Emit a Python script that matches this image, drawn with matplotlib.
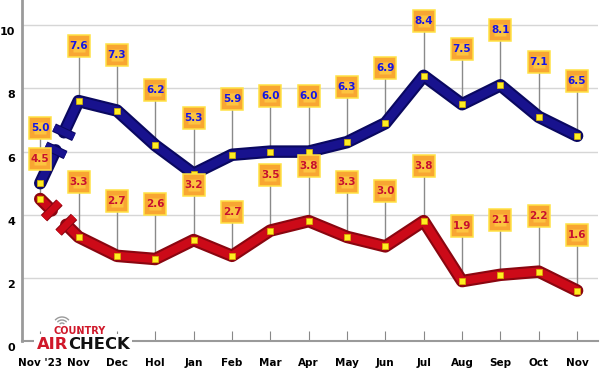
import numpy as np
import matplotlib.pyplot as plt
import matplotlib.patheffects as pe
import matplotlib.transforms as mtransforms
from matplotlib.patches import Arc, Rectangle

# -----------------------------
# Data
# -----------------------------
months = ["Nov '23", "Nov", "Dec", "Hol", "Jan", "Feb", "Mar", "Apr",
          "May", "Jun", "Jul", "Aug", "Sep", "Oct", "Nov"]
blue_vals = [5.0, 7.6, 7.3, 6.2, 5.3, 5.9, 6.0, 6.0, 6.3, 6.9, 8.4, 7.5, 8.1, 7.1, 6.5]
red_vals = [4.5, 3.3, 2.7, 2.6, 3.2, 2.7, 3.5, 3.8, 3.3, 3.0, 3.8, 1.9, 2.1, 2.2, 1.6]
y_ticks = [0, 2, 4, 6, 8, 10]

# -----------------------------
# Figure / axes
# -----------------------------
fig = plt.figure(figsize=(6, 3.7), dpi=100)
ax = fig.add_axes([0.037, 0.078, 0.96, 0.922])
x = np.arange(len(months))
ax.set_xlim(-0.47, len(months) - 0.45)
ax.set_ylim(0, 10.8)

ax.set_yticks(y_ticks)
ax.set_yticklabels([str(v) for v in y_ticks], fontsize=8, fontweight='bold')
ax.yaxis.grid(True, color='#d6d6d6', lw=1)
ax.set_axisbelow(True)
ax.tick_params(axis='y', length=0, pad=5)
# y labels sit a little below their gridlines
shift = mtransforms.ScaledTranslation(0, -0.06, fig.dpi_scale_trans)
for lab in ax.get_yticklabels():
    lab.set_transform(lab.get_transform() + shift)
ax.set_xticks(x)
ax.set_xticklabels(months, fontsize=7.5, fontweight='bold')
ax.tick_params(axis='x', direction='in', length=7, color='#888888', pad=12)
for s in ['top', 'right']:
    ax.spines[s].set_visible(False)
ax.spines['left'].set_color('#9a9a9a')
ax.spines['left'].set_linewidth(2)
ax.spines['bottom'].set_color('#9a9a9a')
ax.spines['bottom'].set_linewidth(1.5)


# -----------------------------
# Helpers
# -----------------------------
def to_disp(px, py):
    return ax.transData.transform((px, py))


def to_data(p):
    return ax.transData.inverted().transform(p)


def draw_series(vals, color, dark, text_color, cut, label_off, z):
    vals = np.asarray(vals)
    p0 = to_disp(x[0], vals[0])
    p1 = to_disp(x[1], vals[1])
    a = to_data(p0 + (p1 - p0) * cut[0])
    b = to_data(p0 + (p1 - p0) * cut[1])
    style = dict(color=color, lw=6, solid_capstyle='round', solid_joinstyle='round',
                 zorder=z, path_effects=[pe.Stroke(linewidth=9, foreground=dark), pe.Normal()])
    ax.plot([x[0], a[0]], [vals[0], a[1]], **style)
    ax.plot(np.r_[b[0], x[1:]], np.r_[b[1], vals[1:]], **style)

    # break caps on the first segment
    d = (p1 - p0) / np.linalg.norm(p1 - p0)
    n = np.array([-d[1], d[0]]) * 11
    for t in cut:
        c = p0 + (p1 - p0) * t
        e1, e2 = to_data(c + n), to_data(c - n)
        ax.plot([e1[0], e2[0]], [e1[1], e2[1]], color=color, lw=5, solid_capstyle='butt',
                zorder=z + 0.1, path_effects=[pe.Stroke(linewidth=6.5, foreground=dark), pe.Normal()])

    ax.plot(x, vals, ls='none', marker='s', ms=4, mfc='#ffee22', mec='#d8b000', mew=0.5, zorder=z + 0.2)

    # value boxes, always above the lines
    bz = 10 + z
    for i, v in enumerate(vals):
        ly = v + label_off[i]
        ax.plot([x[i], x[i]], [v, ly], color='#8a8a8a', lw=1, zorder=2)
        ax.plot(x[i], ly, marker='s', ms=15.5, mfc='#f8a632', mec='#ffe245', mew=1.1, zorder=bz)
        ax.plot(x[i], ly, marker='s', ms=9, mfc='#fcc440', mec='none', zorder=bz + 0.1)
        ax.text(x[i], ly, f"{v:.1f}", ha='center', va='center', fontsize=7.5,
                fontweight='bold', color=text_color, zorder=bz + 0.2)


off_red = [1.75] * len(months)
off_red[0] = 1.28
off_red[5] = 1.4
off_blue = [1.75] * len(months)

draw_series(red_vals, '#cc0a18', '#8a0610', '#c8102e', (0.3, 0.68), off_red, 4)
draw_series(blue_vals, '#18128e', '#0a0860', '#1414e6', (0.4, 0.62), off_blue, 6)

# -----------------------------
# Logo
# -----------------------------
fig.add_artist(Rectangle((34 / 600, 1 - 351 / 370), 98 / 600, 17 / 370, transform=fig.transFigure,
                         facecolor='white', edgecolor='none', zorder=2))
air = fig.text(37 / 600, 1 - 349 / 370, 'AIR', fontsize=11.8, fontweight='bold',
               color='#d0182a', ha='left', va='baseline', zorder=4)
fig.canvas.draw()
air_box = air.get_window_extent()
fig.text(air_box.x1 / fig.bbox.width, 1 - 349 / 370, 'CHECK', fontsize=11.8, fontweight='bold',
         color='#111111', ha='left', va='baseline', zorder=4)
fig.text(80 / 600, 1 - 331 / 370, 'COUNTRY', fontsize=7, fontweight='bold', color='#d0182a',
         ha='center', va='center', zorder=4)
for r in (3, 6, 9):
    fig.add_artist(Arc((0.62, 0.44), 2 * r / 100, 2 * r / 100, theta1=40, theta2=140,
                       transform=fig.dpi_scale_trans, color='#9a9a9a', lw=1, zorder=4))

fig.savefig('out.png', dpi=100)
